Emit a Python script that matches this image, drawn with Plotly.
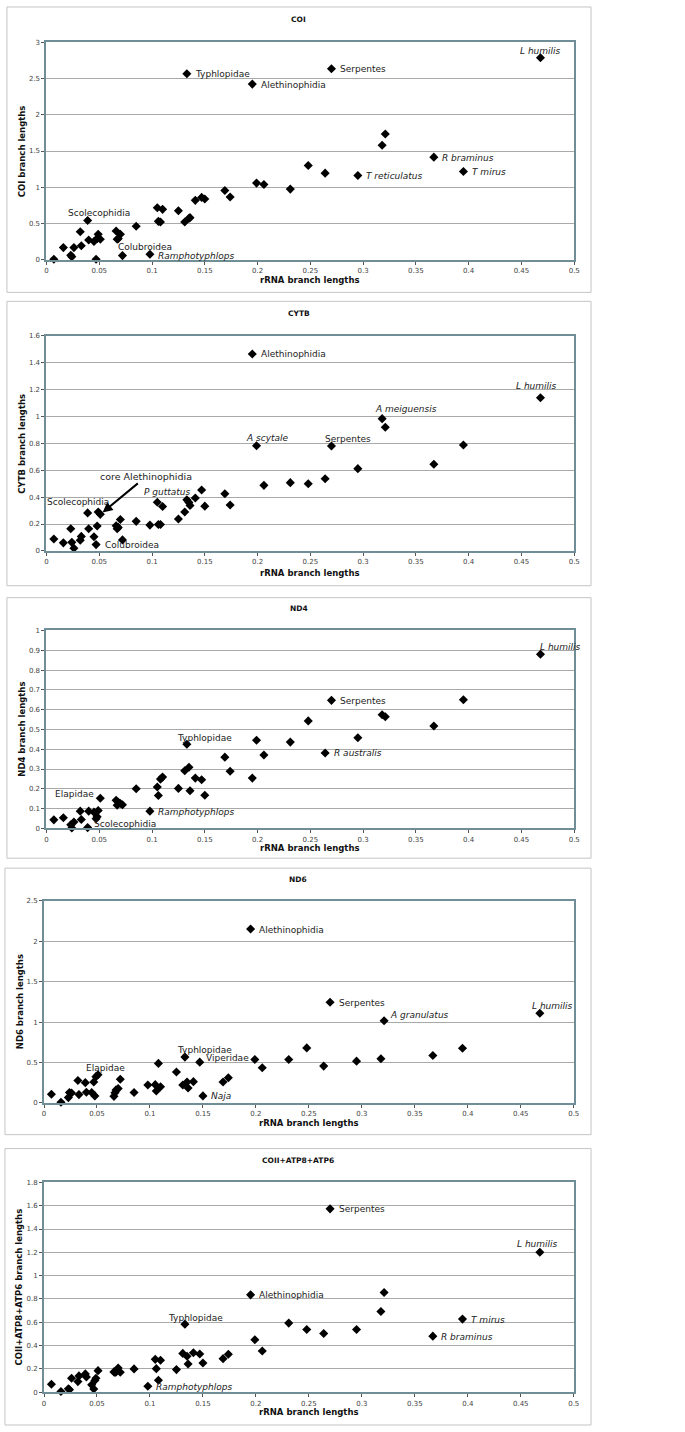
import plotly.graph_objects as go

W, H = 685, 1432

# rRNA branch lengths (shared x for every gene panel)
rrna = [0.007, 0.016, 0.023, 0.024, 0.026, 0.032, 0.033, 0.039, 0.040, 0.045,
        0.047, 0.048, 0.049, 0.051, 0.066, 0.067, 0.068, 0.070, 0.072, 0.085,
        0.098, 0.105, 0.106, 0.108, 0.110, 0.125, 0.131, 0.133, 0.135, 0.136,
        0.141, 0.147, 0.150, 0.169, 0.174, 0.195, 0.199, 0.206, 0.231, 0.248,
        0.264, 0.270, 0.295, 0.318, 0.321, 0.367, 0.395, 0.468]

coi = [0.005, 0.165, 0.06, 0.04, 0.165, 0.385, 0.19, 0.54, 0.27, 0.25,
       0.005, 0.29, 0.35, 0.28, 0.395, 0.28, 0.29, 0.35, 0.055, 0.46,
       0.073, 0.717, 0.528, 0.52, 0.694, 0.675, 0.52, 2.568, 0.57, 0.579,
       0.818, 0.859, 0.836, 0.955, 0.864, 2.425, 1.057, 1.038, 0.974, 1.3,
       1.194, 2.637, 1.162, 1.58, 1.736, 1.415, 1.217, 2.788]

cytb = [0.089, 0.06, 0.165, 0.064, 0.02, 0.08, 0.108, 0.283, 0.165, 0.106,
        0.047, 0.186, 0.29, 0.272, 0.187, 0.165, 0.175, 0.234, 0.082, 0.22,
        0.192, 0.362, 0.197, 0.197, 0.33, 0.238, 0.29, 0.38, 0.36, 0.338,
        0.394, 0.453, 0.333, 0.425, 0.342, 1.465, 0.782, 0.488, 0.508, 0.5,
        0.537, 0.78, 0.612, 0.984, 0.92, 0.645, 0.788, 1.14]

nd4 = [0.043, 0.054, 0.018, 0.002, 0.032, 0.087, 0.045, 0.004, 0.087, 0.082,
       0.049, 0.059, 0.09, 0.152, 0.142, 0.117, 0.132, 0.126, 0.119, 0.2,
       0.087, 0.209, 0.166, 0.249, 0.259, 0.202, 0.291, 0.425, 0.309, 0.19,
       0.254, 0.246, 0.167, 0.36, 0.289, 0.254, 0.445, 0.371, 0.436, 0.543,
       0.381, 0.647, 0.458, 0.574, 0.564, 0.517, 0.65, 0.88]

nd6 = [0.107, 0.008, 0.065, 0.128, 0.122, 0.277, 0.102, 0.25, 0.131, 0.127,
       0.258, 0.086, 0.324, 0.348, 0.08, 0.125, 0.16, 0.176, 0.292, 0.127,
       0.221, 0.225, 0.148, 0.488, 0.2, 0.381, 0.221, 0.566, 0.258, 0.184,
       0.262, 0.504, 0.086, 0.258, 0.311, 2.152, 0.537, 0.434, 0.537, 0.68,
       0.455, 1.246, 0.516, 0.545, 1.016, 0.586, 0.676, 1.11]

coii_atp = [0.068, 0.006, 0.03, 0.022, 0.12, 0.091, 0.14, 0.157, 0.131, 0.063,
            0.028, 0.1, 0.12, 0.185, 0.174, 0.17, 0.174, 0.208, 0.171, 0.2,
            0.051, 0.282, 0.202, 0.103, 0.274, 0.194, 0.333, 0.584, 0.308, 0.242,
            0.339, 0.328, 0.251, 0.288, 0.325, 0.835, 0.45, 0.353, 0.593, 0.538,
            0.504, 1.573, 0.538, 0.692, 0.855, 0.481, 0.627, 1.2]

genes = ["COI", "CYTB", "ND4", "ND6", "COII+ATP8+ATP6"]
gene_values = [coi, cytb, nd4, nd6, coii_atp]
y_max = [3, 1.6, 1, 2.5, 1.8]
y_step = [0.5, 0.2, 0.1, 0.5, 0.2]

# point labels: (point index, text)
coi_labels = [(47, "L humilis"), (27, "Typhlopidae"), (41, "Serpentes"),
              (35, "Alethinophidia"), (45, "R braminus"), (46, "T mirus"),
              (42, "T reticulatus"), (7, "Scolecophidia"), (10, "Colubroidea"),
              (20, "Ramphotyphlops")]
cytb_labels = [(35, "Alethinophidia"), (47, "L humilis"), (43, "A meiguensis"),
               (36, "A scytale"), (41, "Serpentes"), (27, "P guttatus"),
               (7, "Scolecophidia"), (10, "Colubroidea"),
               (13, "core Alethinophidia")]
nd4_labels = [(47, "L humilis"), (41, "Serpentes"), (27, "Typhlopidae"),
              (40, "R australis"), (13, "Elapidae"), (20, "Ramphotyphlops"),
              (7, "Scolecophidia")]
nd6_labels = [(35, "Alethinophidia"), (41, "Serpentes"), (44, "A granulatus"),
              (47, "L humilis"), (27, "Typhlopidae"), (31, "Viperidae"),
              (13, "Elapidae"), (32, "Naja")]
coii_labels = [(41, "Serpentes"), (47, "L humilis"), (35, "Alethinophidia"),
               (27, "Typhlopidae"), (46, "T mirus"), (45, "R braminus"),
               (20, "Ramphotyphlops")]
gene_labels = [coi_labels, cytb_labels, nd4_labels, nd6_labels, coii_labels]

italic_names = {"L humilis", "R braminus", "T mirus", "T reticulatus",
                "Ramphotyphlops", "A meiguensis", "A scytale", "P guttatus",
                "R australis", "A granulatus", "Naja"}

# label placement relative to its point: (xanchor, xshift px, yshift px up)
R = ("left", 6.5, -0.5)
label_pos = [
    {"L humilis": ("center", 0, 7), "Scolecophidia": ("center", 11, 7),
     "Colubroidea": ("left", 20, 12), "Ramphotyphlops": ("left", 6.5, -1.5)},
    {"L humilis": ("center", -3.5, 11.5), "A meiguensis": ("center", 24, 9.5),
     "A scytale": ("center", 10.5, 7.5), "Serpentes": ("center", 17, 7.5),
     "P guttatus": ("center", -19, 8), "Scolecophidia": ("center", -9.5, 11.3)},
    {"L humilis": ("left", -2, 7), "Typhlopidae": ("center", 17.5, 6.3),
     "Elapidae": ("right", -4.4, 4.7), "Scolecophidia": ("left", 4, 4)},
    {"A granulatus": ("left", 3.5, 5.7), "L humilis": ("center", 13, 7.7),
     "Typhlopidae": ("center", 20, 7), "Viperidae": ("left", 4, 3.7),
     "Elapidae": ("center", 7.4, 6.7)},
    {"L humilis": ("center", -2.6, 8.7), "Typhlopidae": ("center", 10.5, 6.3)},
]

# panel geometry in page pixels
frames = [(5, 3, 596, 290), (5, 299, 596, 585), (5, 597, 596, 859),
          (3, 869, 596, 1137), (3, 1151, 596, 1429)]
plots = [(45, 38.7, 579, 257), (45, 333.7, 579, 550), (45, 630, 579, 829),
         (42.5, 902, 578.5, 1105), (42.5, 1185, 578.5, 1396)]
title_y = [16, 311, 608, 880, 1163]
xtitle_y = [278, 572, 849, 1125, 1416]
ytitle_x = [20.5, 20.5, 20.5, 18.5, 17.5]

FONT = "DejaVu Sans"
BORDER = "#6f8e98"


def px(v):
    return v / W


def py(v):
    return 1 - v / H


fig = go.Figure()
annotations = []
shapes = []
layout = {}

for k, gene in enumerate(genes):
    n = k + 1
    xa, ya = ("x" if n == 1 else f"x{n}"), ("y" if n == 1 else f"y{n}")
    vals = gene_values[k]
    fig.add_trace(go.Scatter(
        x=rrna, y=vals, mode="markers", xaxis=xa, yaxis=ya,
        marker=dict(symbol="diamond", size=7, color="black"),
        cliponaxis=False, showlegend=False,
    ))
    x0, y0, x1, y1 = plots[k]
    tick_font = dict(family=FONT, size=7, color="#444")
    layout[f"xaxis{n if n > 1 else ''}"] = dict(
        domain=[px(x0), px(x1)], anchor=ya, range=[0, 0.5], dtick=0.05,
        showgrid=False, zeroline=False, showline=True, mirror=True,
        linecolor=BORDER, linewidth=2, ticks="outside", ticklen=3,
        tickcolor="#555", tickfont=tick_font, fixedrange=True,
    )
    layout[f"yaxis{n if n > 1 else ''}"] = dict(
        domain=[py(y1), py(y0)], anchor=xa, range=[0, y_max[k]], dtick=y_step[k],
        showgrid=True, gridcolor="#a9a9a9", gridwidth=1, zeroline=False,
        showline=True, mirror=True, linecolor=BORDER, linewidth=2,
        ticks="outside", ticklen=3, tickcolor="#555", tickfont=tick_font,
        fixedrange=True,
    )

    fx0, fy0, fx1, fy1 = frames[k]
    shapes.append(dict(type="rect", xref="paper", yref="paper",
                       x0=px(fx0), x1=px(fx1), y0=py(fy1), y1=py(fy0),
                       line=dict(color="#c4c4c4", width=1)))

    # titles
    annotations.append(dict(text=f"<b>{gene}</b>", xref="paper", yref="paper",
                            x=px((fx0 + fx1) / 2), y=py(title_y[k]),
                            showarrow=False, xanchor="center", yanchor="middle",
                            font=dict(family=FONT, size=7.5, color="#111")))
    annotations.append(dict(text="<b>rRNA branch lengths</b>", xref="paper",
                            yref="paper", x=px((x0 + x1) / 2), y=py(xtitle_y[k]),
                            showarrow=False, xanchor="center", yanchor="middle",
                            font=dict(family=FONT, size=8.5, color="#111")))
    annotations.append(dict(text=f"<b>{gene} branch lengths</b>", xref="paper",
                            yref="paper", x=px(ytitle_x[k]), y=py((y0 + y1) / 2),
                            textangle=-90, showarrow=False, xanchor="center",
                            yanchor="middle",
                            font=dict(family=FONT, size=8.5, color="#111")))

    # point labels
    for idx, text in gene_labels[k]:
        shown = f"<i>{text}</i>" if text in italic_names else text
        lab_font = dict(family=FONT, size=9, color="#222")
        if text == "core Alethinophidia":
            annotations.append(dict(
                text=shown, x=rrna[idx], y=vals[idx], xref=xa, yref=ya,
                showarrow=True, ax=46, ay=-38, arrowhead=2, arrowsize=1,
                arrowwidth=2, arrowcolor="black", standoff=3,
                font=dict(family=FONT, size=9.5, color="#222")))
            continue
        anchor, dx, dy = label_pos[k].get(text, R)
        annotations.append(dict(
            text=shown, x=rrna[idx], y=vals[idx], xref=xa, yref=ya,
            showarrow=False, xanchor=anchor, yanchor="middle",
            xshift=dx, yshift=dy, font=lab_font))

fig.update_layout(
    width=W, height=H, margin=dict(l=0, r=0, t=0, b=0),
    paper_bgcolor="white", plot_bgcolor="white",
    annotations=annotations, shapes=shapes, showlegend=False,
    **layout,
)

# drop the page's default body margin so the figure sits at the window corner
fig.write_html("out.html", config={"displayModeBar": False},
               post_script="document.body.style.margin='0';")
